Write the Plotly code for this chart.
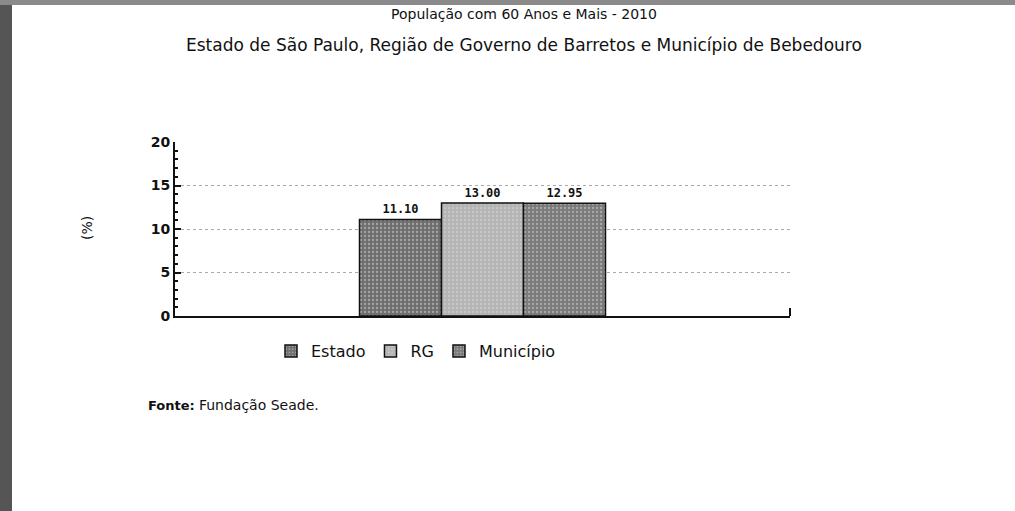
import plotly.graph_objects as go

categories = [""]
series_names = ["Estado", "RG", "Município"]
series_values = [[11.10], [13.00], [12.95]]
series_colors = ["#6e6e6e", "#b4b4b4", "#7a7a7a"]
value_labels = ["11.10", "13.00", "12.95"]
y_ticks = [0, 5, 10, 15, 20]

W, H = 1015, 511
L, R, T, B = 175, 225, 142, 195
pw, ph = W - L - R, H - T - B

def px(x):
    return (x - L) / pw

def py(y):
    return (H - B - y) / ph

fig = go.Figure()
for name, vals, col, lab in zip(series_names, series_values, series_colors, value_labels):
    fig.add_trace(go.Bar(
        x=categories, y=vals, name=name,
        marker=dict(color=col, line=dict(color="#111", width=1.5),
                    pattern=dict(shape=".", fgcolor="#dcdcdc", size=4, solidity=0.25)),
        text=[lab], textposition="outside",
        textfont=dict(family="DejaVu Sans Mono", size=12, color="#111", weight="bold"),
        cliponaxis=False,
    ))

fig.update_layout(
    width=W, height=H,
    margin=dict(l=L, r=R, t=T, b=B, autoexpand=False),
    paper_bgcolor="white", plot_bgcolor="white",
    barmode="group", bargap=0.6, bargroupgap=0,
    font=dict(family="DejaVu Sans", size=12, color="#111"),
    showlegend=True,
    legend=dict(orientation="h", x=px(271), xanchor="left", y=py(351), yanchor="middle",
                font=dict(size=16), itemwidth=30, traceorder="normal",
                bgcolor="rgba(0,0,0,0)"),
    xaxis=dict(showticklabels=False, showgrid=False, zeroline=False, automargin=False,
               showline=True, linecolor="#111", linewidth=2, ticks=""),
    yaxis=dict(range=[0, 20], tickvals=y_ticks, showgrid=True, gridcolor="#aaaaaa",
               griddash="dot", gridwidth=0.7, zeroline=False, showline=True, automargin=False,
               linecolor="#111", linewidth=2, ticks="inside", ticklen=6, tickwidth=1.5,
               tickcolor="#111", tickfont=dict(size=14, family="DejaVu Sans", weight="bold"),
               minor=dict(ticks="inside", ticklen=3, dtick=1, tickcolor="#111")),
    annotations=[
        dict(text="(%)", x=px(87), y=py(228), xref="paper", yref="paper", textangle=-90,
             showarrow=False, font=dict(size=14), xanchor="center", yanchor="middle"),
        dict(text="População com 60 Anos e Mais - 2010", x=px(524), y=py(14), xref="paper", yref="paper",
             showarrow=False, font=dict(size=14), xanchor="center", yanchor="middle"),
        dict(text="Estado de São Paulo, Região de Governo de Barretos e Município de Bebedouro",
             x=px(524), y=py(45), xref="paper", yref="paper",
             showarrow=False, font=dict(size=17), xanchor="center", yanchor="middle"),
        dict(text="<b>Fonte:</b> <span style='font-size:14px'>Fundação Seade.</span>",
             x=px(146), y=py(405), xref="paper", yref="paper",
             showarrow=False, font=dict(size=13), xanchor="left", yanchor="middle"),
    ],
    shapes=[
        dict(type="rect", xref="paper", yref="paper", x0=px(0), x1=px(12), y0=py(511), y1=py(0),
             fillcolor="#555", line=dict(width=0), layer="above"),
        dict(type="rect", xref="paper", yref="paper", x0=px(0), x1=px(1015), y0=py(5), y1=py(0),
             fillcolor="#8a8a8a", line=dict(width=0), layer="above"),
        dict(type="line", xref="paper", yref="paper", x0=1, x1=1, y0=0, y1=py(308),
             line=dict(color="#111", width=2)),
    ],
)

fig.write_html("out.html", config={"displayModeBar": False},
               post_script="document.body.style.margin='0';document.body.style.padding='0';")
